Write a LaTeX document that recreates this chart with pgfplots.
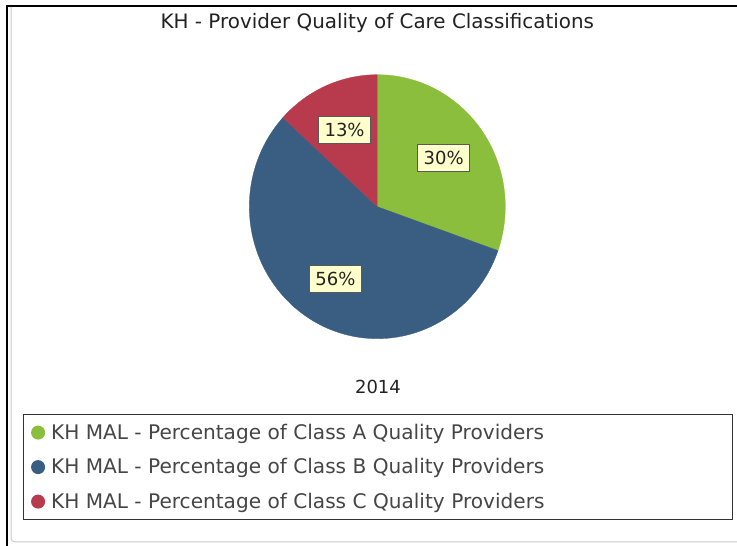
\documentclass[border=0pt]{standalone}
\usepackage{pgfplots}
\pgfplotsset{compat=1.18}
\usepackage{pgfplotstable}
\usepackage{fontspec}
\setmainfont{DejaVu Sans}
\definecolor{sliceA}{RGB}{139,190,60}
\definecolor{sliceB}{RGB}{58,94,130}
\definecolor{sliceC}{RGB}{183,59,76}
\definecolor{labelfill}{RGB}{255,255,204}
\definecolor{legtext}{RGB}{70,70,70}
\definecolor{titletext}{RGB}{34,34,34}
\definecolor{frameline}{RGB}{200,200,200}

\pgfplotstableread{
class value
A 30.4
B 56.4
C 13.2
}\piedata
\pgfplotstablegetelem{0}{value}\of\piedata \let\vA\pgfplotsretval
\pgfplotstablegetelem{1}{value}\of\piedata \let\vB\pgfplotsretval
\pgfplotstablegetelem{2}{value}\of\piedata \let\vC\pgfplotsretval

% pie geometry (canvas units = pixels of the reference, y upward)
\def\cx{377.3}
\def\cy{339.3}
\def\rx{128}
\def\ry{132}
\def\lk{0.635}
\pgfmathsetmacro\aS{90}
\pgfmathsetmacro\aE{90-3.6*\vA}
\pgfmathsetmacro\bE{\aE-3.6*\vB}
\pgfmathsetmacro\cE{\bE-3.6*\vC}
\pgfmathsetmacro\mA{(\aS+\aE)/2}
\pgfmathsetmacro\mB{(\aE+\bE)/2}
\pgfmathsetmacro\mC{(\bE+\cE)/2}
\pgfmathsetmacro\lAx{\cx+\lk*\rx*cos(\mA)}
\pgfmathsetmacro\lAy{\cy+\lk*\ry*sin(\mA)}
\pgfmathsetmacro\lBx{\cx+\lk*\rx*cos(\mB)}
\pgfmathsetmacro\lBy{\cy+\lk*\ry*sin(\mB)}
\pgfmathsetmacro\lCx{\cx+\lk*\rx*cos(\mC)}
\pgfmathsetmacro\lCy{\cy+\lk*\ry*sin(\mC)}

\newcommand\titlefont{\fontsize{19.9bp}{23bp}\selectfont}
\newcommand\legfont{\fontsize{20.1bp}{23bp}\selectfont}
\newcommand\labfont{\fontsize{18bp}{21bp}\selectfont}

\tikzset{slicelabel/.style={fill=labelfill, draw=black!65, line width=0.8bp,
    inner xsep=6bp, inner ysep=6.5bp, text height=13.5bp, text depth=0.5bp,
    font=\labfont, text=titletext}}

\begin{document}
\begin{tikzpicture}
\begin{axis}[
  width=737bp, height=546bp, scale only axis,
  xmin=0, xmax=737, ymin=0, ymax=546,
  hide axis, clip=false,
  legend cell align=left,
  legend style={
    at={(axis cs:23,132)}, anchor=north west,
    draw=black!80, line width=1.2bp, fill=white,
    inner xsep=7.5bp, inner ysep=9.5bp,
    row sep=17.5bp,
    nodes={inner sep=0pt, text height=15bp, text depth=2bp, anchor=west,
           font=\legfont, text=legtext, draw=none},
  },
]
% frame
\draw[black, line width=2bp] (axis cs:6.7,0) -- (axis cs:6.7,540) -- (axis cs:737,540);
\draw[frameline, line width=1bp, rounded corners=4bp] (axis cs:11,539) -- (axis cs:11,4) -- (axis cs:737,4);

% legend images
\addlegendimage{legend image code/.code={\fill[sliceA, draw=none] (6.5bp,0) circle[radius=7bp]; \path[draw=none] (0,0) -- (19.5bp,0);}}
\addlegendentry{\makebox[674bp][l]{KH MAL - Percentage of Class A Quality Providers}}
\addlegendimage{legend image code/.code={\fill[sliceB, draw=none] (6.5bp,0) circle[radius=7bp]; \path[draw=none] (0,0) -- (19.5bp,0);}}
\addlegendentry{\makebox[674bp][l]{KH MAL - Percentage of Class B Quality Providers}}
\addlegendimage{legend image code/.code={\fill[sliceC, draw=none] (6.5bp,0) circle[radius=7bp]; \path[draw=none] (0,0) -- (19.5bp,0);}}
\addlegendentry{\makebox[674bp][l]{KH MAL - Percentage of Class C Quality Providers}}

% slices
\addplot[forget plot, fill=sliceA, draw=sliceA, line width=0.3bp, domain=\aE:\aS, samples=90, variable=\t]
  ({\cx+\rx*cos(\t)}, {\cy+\ry*sin(\t)}) -- (axis cs:\cx,\cy) -- cycle;
\addplot[forget plot, fill=sliceB, draw=sliceB, line width=0.3bp, domain=\bE:\aE, samples=120, variable=\t]
  ({\cx+\rx*cos(\t)}, {\cy+\ry*sin(\t)}) -- (axis cs:\cx,\cy) -- cycle;
\addplot[forget plot, fill=sliceC, draw=sliceC, line width=0.3bp, domain=\cE:\bE, samples=40, variable=\t]
  ({\cx+\rx*cos(\t)}, {\cy+\ry*sin(\t)}) -- (axis cs:\cx,\cy) -- cycle;

% slice labels
\node[slicelabel] at (axis cs:\lAx,\lAy) {\pgfmathprintnumber[fixed,precision=0,assume math mode=true]{\vA}\%};
\node[slicelabel] at (axis cs:\lBx,\lBy) {\pgfmathprintnumber[fixed,precision=0,assume math mode=true]{\vB}\%};
\node[slicelabel] at (axis cs:\lCx,\lCy) {\pgfmathprintnumber[fixed,precision=0,assume math mode=true]{\vC}\%};

% title and category
\node[anchor=base, font=\titlefont, text=titletext] at (axis cs:377.3,517) {KH - Provider Quality of Care Classifications};
\node[anchor=base, font=\labfont, text=titletext] at (axis cs:378,152.7) {2014};
\end{axis}
\pgfresetboundingbox
\path (0,0) rectangle (737bp,546bp);
\end{tikzpicture}
\end{document}
